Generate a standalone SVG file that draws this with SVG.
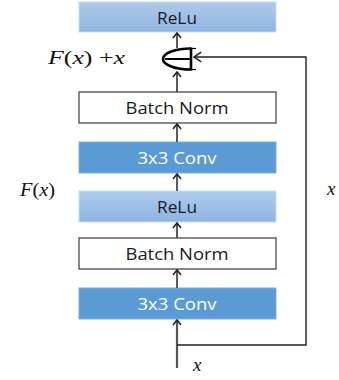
<svg xmlns="http://www.w3.org/2000/svg" width="339" height="380" viewBox="0 0 339 380">
<defs>
<linearGradient id="gRelu" x1="0" y1="0" x2="0" y2="1">
<stop offset="0" stop-color="#aecaeb"/>
<stop offset="1" stop-color="#8fb4e2"/>
</linearGradient>
<marker id="ah" markerUnits="userSpaceOnUse" markerWidth="10" markerHeight="10" viewBox="0 0 10 10" refX="9" refY="5" orient="auto">
<path d="M4,1 L9,5 L4,9" fill="none" stroke="#222" stroke-width="1.6"/>
</marker>
<marker id="ahl" markerUnits="userSpaceOnUse" markerWidth="12" markerHeight="12" viewBox="0 0 10 10" refX="9" refY="5" orient="auto">
<path d="M3,1 L9,5 L3,9" fill="none" stroke="#222" stroke-width="1.3"/>
</marker>
</defs>
<style>
.relu{fill:url(#gRelu);stroke:#c9dbf1;stroke-width:1}
.conv{fill:#5b9bd5;stroke:#7fb0de;stroke-width:1}
.bn{fill:#ffffff;stroke:#3a3a3a;stroke-width:1.2}
.lbl{font-family:"Open Sans","DejaVu Sans",sans-serif;font-size:16px;text-anchor:middle}
.dark{fill:#1a1a1a}
.white{fill:#ffffff}
.math{font-family:"Liberation Serif","Times New Roman",serif;font-style:italic;font-size:19px;fill:#111}
.up{font-style:normal}
.arr{stroke:#333;stroke-width:1.6;fill:none;marker-end:url(#ah)}
</style>
<g id="relu_top"><rect class="relu" x="79" y="2" width="197" height="30"/><text class="lbl dark" x="177" y="24" textLength="40" lengthAdjust="spacingAndGlyphs">ReLu</text></g>
<g id="add">
<path d="M191,48.5 A28,10.5 0 0 0 191,69.5" fill="none" stroke="#000" stroke-width="2.6"/>
<line x1="165" y1="59" x2="192" y2="59" stroke="#000" stroke-width="2"/>
<line x1="191" y1="47.5" x2="191" y2="70.5" stroke="#000" stroke-width="2.6"/>
<line x1="191" y1="48.5" x2="196" y2="48.5" stroke="#000" stroke-width="1.2"/>
<line x1="191" y1="69.5" x2="196" y2="69.5" stroke="#000" stroke-width="1.2"/>
</g>
<g id="bn_top"><rect class="bn" x="79" y="92" width="197" height="31"/><text class="lbl dark" x="177" y="114" textLength="103" lengthAdjust="spacingAndGlyphs">Batch Norm</text></g>
<g id="conv_top"><rect class="conv" x="79" y="142" width="197" height="31"/><text class="lbl white" x="177" y="164" textLength="79" lengthAdjust="spacingAndGlyphs">3x3 Conv</text></g>
<g id="relu_mid"><rect class="relu" x="79" y="191" width="197" height="31"/><text class="lbl dark" x="177" y="213" textLength="40" lengthAdjust="spacingAndGlyphs">ReLu</text></g>
<g id="bn_bot"><rect class="bn" x="79" y="238" width="197" height="31"/><text class="lbl dark" x="177" y="260" textLength="103" lengthAdjust="spacingAndGlyphs">Batch Norm</text></g>
<g id="conv_bot"><rect class="conv" x="79" y="288" width="197" height="31"/><text class="lbl white" x="177" y="310" textLength="79" lengthAdjust="spacingAndGlyphs">3x3 Conv</text></g>
<g id="connectors">
<line x1="177" y1="368" x2="177" y2="320" stroke="#555" stroke-width="2.2" marker-end="url(#ah)"/>
<line class="arr" x1="177" y1="288" x2="177" y2="270"/>
<line class="arr" x1="177" y1="238" x2="177" y2="223"/>
<line class="arr" x1="177" y1="191" x2="177" y2="174"/>
<line class="arr" x1="177" y1="142" x2="177" y2="124"/>
<line class="arr" x1="177" y1="92" x2="177" y2="72"/>
<line class="arr" x1="177" y1="48" x2="177" y2="33"/>
<polyline points="177,345 306,345 306,57 194,57" fill="none" stroke="#222" stroke-width="1.4" marker-end="url(#ahl)"/>
</g>
<g id="labels">
<text class="math" x="48" y="64" textLength="77" lengthAdjust="spacingAndGlyphs">F<tspan class="up">(</tspan>x<tspan class="up">) +</tspan>x</text>
<text class="math" x="20" y="196" textLength="35" lengthAdjust="spacingAndGlyphs">F<tspan class="up">(</tspan>x<tspan class="up">)</tspan></text>
<text class="math" x="327" y="195">x</text>
<text class="math" x="193" y="371">x</text>
</g>
</svg>
